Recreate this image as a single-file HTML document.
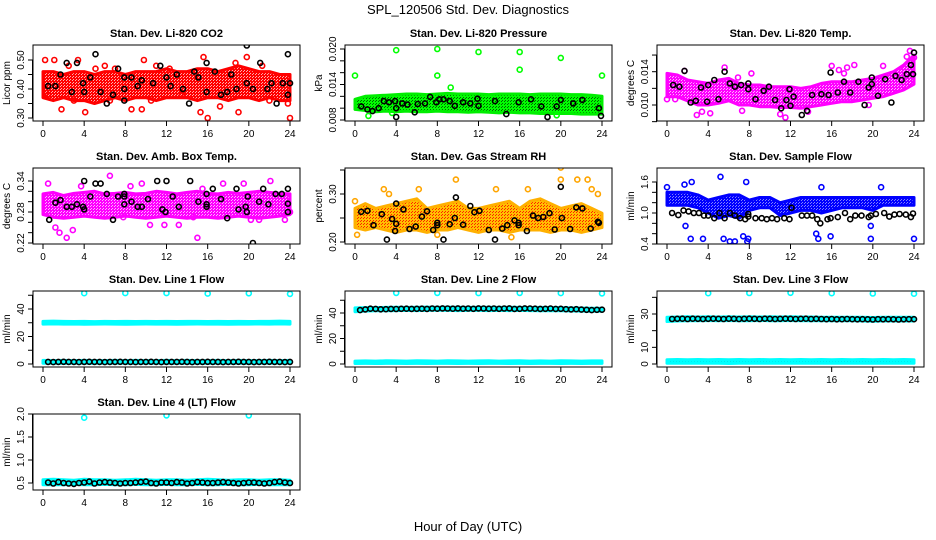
<!DOCTYPE html>
<html><head><meta charset="utf-8"><style>
html,body{margin:0;padding:0;background:#fff;}
svg{display:block;font-family:"Liberation Sans",Arial,sans-serif;}
</style></head><body>
<svg id="c" width="936" height="540" viewBox="0 0 936 540">
<text x="468" y="14" text-anchor="middle" font-size="13">SPL_120506  Std. Dev. Diagnostics</text>
<text x="468" y="531" text-anchor="middle" font-size="13">Hour of Day (UTC)</text>
</svg>
<script>
// ---- data ----
const xTicks=[0,4,8,12,16,20,24];
// Panel 1 CO2
const co2BandLo=[0.37,0.36,0.37,0.36,0.36,0.35,0.36,0.37,0.36,0.37,0.37,0.36,0.37,0.37,0.37,0.36,0.37,0.37,0.36,0.37,0.37,0.36,0.37,0.36,0.36];
const co2BandHi=[0.46,0.46,0.45,0.46,0.46,0.45,0.46,0.46,0.45,0.46,0.46,0.46,0.47,0.46,0.46,0.47,0.47,0.46,0.47,0.48,0.47,0.46,0.46,0.45,0.45];
const co2PtsH=[0.2,1.1,1.8,2.5,3.4,4.1,5.1,6.0,7.0,8.6,9.6,9.8,11.0,12.3,13.5,15.3,15.6,16.0,17.2,18.7,19.0,19.8,21.3,22.0,23.8,24.0,0.5,3.0,6.5,10.5];
const co2PtsV=[0.50,0.50,0.33,0.48,0.50,0.32,0.47,0.48,0.47,0.33,0.33,0.50,0.48,0.47,0.38,0.32,0.51,0.30,0.34,0.49,0.32,0.51,0.48,0.36,0.35,0.30,0.38,0.36,0.36,0.36];
const co2BlkH=[0.5,1.2,1.7,2.3,2.8,3.3,3.9,4.0,4.6,5.1,5.6,6.2,6.8,7.3,7.9,7.9,7.9,8.6,9.2,9.6,10.7,11.4,12.0,12.4,13.0,13.6,14.2,14.7,15.1,15.9,15.9,16.7,17.3,17.9,18.3,18.8,19.8,19.8,20.4,21.1,21.8,22.2,22.7,23.3,23.8,23.8,24.0];
const co2BlkV=[0.41,0.41,0.45,0.49,0.39,0.49,0.42,0.39,0.44,0.52,0.39,0.35,0.38,0.47,0.44,0.40,0.36,0.44,0.41,0.43,0.42,0.48,0.44,0.41,0.45,0.40,0.35,0.46,0.44,0.49,0.39,0.46,0.38,0.39,0.45,0.40,0.42,0.55,0.40,0.49,0.40,0.42,0.35,0.42,0.52,0.38,0.42];
// Panel 2 Pressure
const prsBandLo=[0.0098,0.0096,0.0094,0.0095,0.0094,0.0095,0.0094,0.0094,0.0095,0.0094,0.0094,0.0093,0.0094,0.0093,0.0092,0.0093,0.0092,0.0092,0.0091,0.0091,0.0091,0.0091,0.0090,0.0090,0.0090];
const prsBandHi=[0.0115,0.0120,0.0121,0.0122,0.0123,0.0124,0.0124,0.0123,0.0124,0.0125,0.0124,0.0124,0.0124,0.0123,0.0124,0.0124,0.0124,0.0123,0.0124,0.0124,0.0124,0.0123,0.0123,0.0122,0.0120];
const prsPtsH=[0,4,8,8,12,16,16,20,24,1.3,3.6,9.3,19.6];
const prsPtsV=[0.0155,0.0198,0.0200,0.0155,0.0195,0.0195,0.0165,0.0185,0.0155,0.0087,0.0092,0.0135,0.0088];
const prsBlkH=[0.6,1.2,1.7,2.3,2.8,3.3,3.9,4.0,4.0,4.6,5.1,5.8,6.1,6.8,7.3,7.9,8.2,8.6,9.2,9.7,10.5,11.2,11.9,12.0,13.6,14.7,15.9,17.1,18.1,18.7,19.6,20.0,21.2,22.1,23.7,23.9];
const prsBlkV=[0.0103,0.0098,0.0095,0.0100,0.0112,0.0110,0.0112,0.0100,0.0085,0.0108,0.0106,0.0093,0.0107,0.0108,0.0119,0.0110,0.0115,0.0115,0.0112,0.0104,0.0110,0.0108,0.0116,0.0104,0.0112,0.0090,0.0110,0.0115,0.0103,0.0085,0.0103,0.0114,0.0108,0.0114,0.0100,0.0087];
// Panel 3 Li-820 Temp
const tmpBandLo=[0.0110,0.0110,0.0105,0.0100,0.0100,0.0102,0.0105,0.0100,0.0100,0.0098,0.0098,0.0097,0.0097,0.0096,0.0098,0.0100,0.0102,0.0104,0.0104,0.0106,0.0108,0.0110,0.0114,0.0118,0.0125];
const tmpBandHi=[0.0138,0.0136,0.0130,0.0128,0.0126,0.0130,0.0132,0.0126,0.0124,0.0124,0.0122,0.0122,0.0122,0.0120,0.0122,0.0126,0.0128,0.0128,0.0128,0.0130,0.0132,0.0136,0.0140,0.0148,0.0160];
const tmpPtsH=[0,0.8,1.7,2.9,3.4,4.2,5.6,6.9,7.3,8.2,11.0,11.5,13.7,16.0,16.7,17.2,17.5,18.2,19.6,21.0,23.3,23.6,24.0];
const tmpPtsV=[0.0107,0.0107,0.0141,0.0088,0.0092,0.0090,0.0145,0.0133,0.0093,0.0138,0.0089,0.0085,0.0092,0.0147,0.0142,0.0138,0.0145,0.0148,0.0100,0.0147,0.0158,0.0165,0.0157];
const tmpBlkH=[0.6,1.2,1.7,2.3,2.8,3.3,3.9,4.0,4.6,5.0,5.6,6.1,6.6,7.2,7.9,7.9,8.6,9.4,9.9,10.5,11.1,11.6,11.9,12.0,12.3,13.1,13.6,14.1,15.0,15.7,15.9,16.6,17.2,17.8,18.6,19.2,19.6,19.9,19.9,20.5,21.2,21.8,22.2,22.8,23.3,23.7,23.9,24.0];
const tmpBlkV=[0.0124,0.0122,0.0141,0.0103,0.0105,0.0121,0.0104,0.0124,0.0130,0.0107,0.0140,0.0126,0.0122,0.0124,0.0126,0.0119,0.0107,0.0117,0.0122,0.0106,0.0096,0.0106,0.0119,0.0099,0.0110,0.0088,0.0093,0.0112,0.0113,0.0112,0.0139,0.0115,0.0128,0.0115,0.0128,0.0100,0.0121,0.0133,0.0125,0.0111,0.0131,0.0103,0.0135,0.0130,0.0137,0.0148,0.0137,0.0163];
// Panel 4 Amb box temp
const ambBandLo=[0.275,0.27,0.268,0.27,0.272,0.27,0.268,0.27,0.272,0.27,0.268,0.27,0.272,0.27,0.268,0.27,0.27,0.268,0.27,0.272,0.27,0.268,0.27,0.272,0.275];
const ambBandHi=[0.315,0.318,0.312,0.316,0.318,0.32,0.315,0.316,0.318,0.315,0.316,0.32,0.318,0.315,0.318,0.32,0.316,0.315,0.318,0.316,0.318,0.32,0.318,0.316,0.315];
const ambPtsH=[0.5,1.2,1.6,2.3,2.9,3.7,6.5,7.8,8.5,9.6,10.4,11.8,13.2,14.6,15.0,15.5,17.5,19.5,20.2,21.0,22.1,23.5,24.0];
const ambPtsV=[0.335,0.25,0.24,0.23,0.245,0.33,0.35,0.27,0.33,0.335,0.255,0.255,0.255,0.27,0.23,0.325,0.335,0.335,0.265,0.265,0.34,0.265,0.28];
const ambBlkH=[0.6,1.2,1.7,2.3,2.8,3.3,3.9,4.0,4.0,4.6,5.1,5.6,6.2,6.8,7.3,7.9,7.9,7.9,8.6,9.2,9.6,10.2,11.1,11.6,11.9,12.0,12.6,13.2,14.3,15.1,15.9,15.9,15.9,16.5,17.3,17.9,18.8,19.0,19.7,19.8,19.9,20.4,21.0,21.4,21.9,22.6,23.2,23.8,23.8,23.8];
const ambBlkV=[0.265,0.298,0.303,0.29,0.29,0.295,0.29,0.34,0.285,0.31,0.335,0.335,0.315,0.265,0.31,0.315,0.31,0.295,0.30,0.29,0.29,0.305,0.34,0.285,0.28,0.34,0.31,0.29,0.34,0.30,0.315,0.295,0.29,0.325,0.305,0.268,0.325,0.285,0.29,0.28,0.31,0.22,0.30,0.325,0.295,0.315,0.315,0.325,0.296,0.28];
// Panel 5 Gas stream RH
const rhBandLo=[0.23,0.225,0.23,0.225,0.22,0.225,0.225,0.22,0.225,0.225,0.23,0.225,0.22,0.225,0.225,0.22,0.225,0.225,0.225,0.22,0.225,0.225,0.22,0.225,0.23];
const rhBandHi=[0.27,0.28,0.27,0.275,0.28,0.285,0.29,0.27,0.275,0.28,0.285,0.27,0.27,0.275,0.28,0.285,0.27,0.285,0.29,0.28,0.27,0.275,0.28,0.27,0.26];
const rhPtsH=[0,0.2,2.8,3.3,5.0,6.2,8.0,9.8,13.7,15.2,16.8,20.0,20.0,21.6,22.6,23.0,23.6];
const rhPtsV=[0.285,0.215,0.31,0.30,0.28,0.31,0.215,0.33,0.31,0.21,0.31,0.355,0.33,0.33,0.33,0.31,0.30];
const rhBlkH=[0.6,1.2,1.8,2.6,3.1,3.6,3.9,4.0,4.0,4.7,5.3,5.9,6.5,7.0,7.6,8.0,8.0,8.6,9.2,9.7,9.8,10.5,11.2,11.6,12.1,13.0,13.6,14.3,14.8,15.5,15.9,15.9,16.7,17.3,17.8,18.3,18.9,19.4,20.1,20.0,20.9,21.5,22.1,22.9,23.6,23.7];
const rhBlkV=[0.263,0.265,0.235,0.258,0.205,0.248,0.223,0.238,0.28,0.268,0.227,0.232,0.253,0.264,0.225,0.24,0.235,0.205,0.237,0.25,0.293,0.236,0.275,0.262,0.265,0.225,0.205,0.228,0.235,0.245,0.24,0.235,0.223,0.255,0.25,0.252,0.26,0.226,0.25,0.315,0.227,0.272,0.27,0.228,0.242,0.24];
// Panel 6 Sample flow
const sfBandLo=[1.15,1.15,1.15,1.1,1.0,0.9,0.95,0.9,1.05,1.1,1.1,0.95,1.0,1.05,1.05,1.0,1.05,1.1,1.1,1.1,1.05,1.15,1.15,1.15,1.15];
const sfBandHi=[1.4,1.4,1.4,1.35,1.25,1.3,1.35,1.35,1.25,1.3,1.3,1.2,1.25,1.3,1.3,1.3,1.3,1.3,1.3,1.3,1.3,1.3,1.3,1.3,1.3];
const sfPtsH=[0,1.7,1.8,2.3,2.4,3.5,5.2,5.5,6.1,6.6,7.4,7.7,7.8,7.9,14.5,14.7,15.0,15.9,19.8,20.8,24.0,19.8];
const sfPtsV=[1.5,1.55,0.75,0.5,1.6,0.5,1.7,0.5,0.45,0.45,0.55,1.6,0.45,0.5,0.6,0.5,1.5,0.55,0.5,1.5,0.5,0.75];
const sfBlkH=[0.5,1.1,1.6,2.1,2.6,3.1,3.6,4.0,4.6,5.1,5.6,6.1,6.6,7.1,7.6,7.9,7.9,8.6,9.2,9.7,10.2,10.7,11.4,11.9,12.1,13.1,13.6,14.1,14.6,14.9,15.6,15.9,16.6,17.3,17.8,18.3,18.9,19.6,19.8,20.3,21.1,21.6,22.1,22.6,23.2,23.7,23.9];
const sfBlkV=[1.0,0.96,1.05,1.03,1.0,1.0,0.95,0.95,0.9,1.0,0.9,1.0,0.95,0.9,0.88,0.93,0.98,0.9,0.9,0.88,0.9,0.88,0.9,0.88,1.1,0.95,0.95,0.95,0.88,0.8,0.88,0.9,0.92,1.0,0.88,0.95,0.95,0.92,0.95,0.98,1.0,0.93,0.97,0.98,0.97,0.92,0.99];
// Flow panels: black series at half-hour steps 0.5..24
const l1Blk=[1.5,1.4,1.5,1.6,1.5,1.5,1.4,1.5,1.6,1.5,1.5,1.4,1.5,1.5,1.6,1.5,1.5,1.4,1.5,1.5,1.6,1.5,1.4,1.5,1.5,1.5,1.6,1.5,1.4,1.5,1.5,1.6,1.5,1.5,1.4,1.5,1.5,1.6,1.5,1.5,1.4,1.5,1.5,1.6,1.5,1.5,1.4,1.5];
const l1BandALo=[29.0,29.2,29.0,29.1,28.9,29.0,29.1,29.0,28.9,29.0,29.1,29.0,29.0,28.9,29.0,29.1,29.0,29.0,28.9,29.0,29.0,29.1,29.0,29.2,29.0];
const l1BandAHi=[31.0,31.2,31.0,30.9,31.0,30.8,31.0,30.9,31.0,30.9,31.0,30.9,31.0,30.9,31.0,31.0,30.9,31.0,30.9,31.0,30.9,31.0,31.0,31.2,31.0];
const l1BandBLo=[0.5,0.5,0.4,0.5,0.5,0.4,0.5,0.5,0.5,0.4,0.5,0.5,0.5,0.4,0.5,0.5,0.4,0.5,0.5,0.5,0.4,0.5,0.5,0.5,0.5];
const l1BandBHi=[2.6,2.5,2.6,2.5,2.6,2.5,2.5,2.6,2.5,2.6,2.5,2.5,2.6,2.5,2.6,2.5,2.5,2.6,2.5,2.6,2.5,2.5,2.6,2.5,2.6];
const l1PtsH=[4,8,12,16,20,24];
const l1PtsV=[51.5,51.6,51.6,51.2,51.4,51.0];
const l2Blk=[42.3,42.8,43.4,43.2,42.9,43.0,43.2,43.1,43.3,43.4,43.2,43.3,43.4,43.2,43.5,43.4,43.6,43.5,43.4,43.6,43.4,43.5,43.3,43.6,43.5,43.4,43.5,43.3,43.5,43.6,43.2,43.3,43.6,43.5,43.4,43.2,43.3,43.5,43.2,43.3,43.0,42.8,43.0,42.7,42.5,42.3,42.5,42.6];
const l2BandALo=[41.0,41.5,41.8,41.8,41.9,42.0,41.9,42.0,42.1,42.0,41.9,42.0,42.0,41.9,42.0,41.9,42.0,41.9,41.8,41.8,41.7,41.6,41.5,41.4,41.4];
const l2BandAHi=[44.0,44.2,44.3,44.4,44.5,44.4,44.5,44.6,44.5,44.6,44.5,44.4,44.5,44.5,44.4,44.5,44.4,44.3,44.4,44.3,44.2,44.0,43.9,43.8,43.8];
const l2BandBLo=[0.4,0.5,0.4,0.5,0.5,0.4,0.5,0.4,0.5,0.5,0.4,0.5,0.4,0.5,0.5,0.4,0.5,0.4,0.5,0.5,0.4,0.5,0.4,0.5,0.5];
const l2BandBHi=[2.3,2.4,2.3,2.5,2.4,2.3,2.5,2.4,2.3,2.5,2.4,2.3,2.4,2.5,2.3,2.4,2.5,2.3,2.4,2.3,2.5,2.4,2.3,2.4,2.4];
const l2PtsH=[4,8,12,16,20,24];
const l2PtsV=[55.8,55.8,55.6,55.8,55.6,55.4];
const l3Blk=[27.0,27.1,27.2,27.0,27.2,27.1,27.0,27.1,27.2,27.1,27.0,27.2,27.1,27.0,27.1,27.2,27.1,27.0,27.2,27.1,27.0,27.1,27.2,27.1,27.0,27.1,27.2,27.0,27.1,27.0,26.9,27.0,26.8,26.9,27.0,26.9,26.8,26.9,26.8,26.7,26.9,26.8,26.9,26.8,26.7,26.8,26.9,26.9];
const l3BandALo=[25.5,25.8,26.0,26.0,26.1,26.0,26.1,26.0,26.0,26.1,26.0,26.0,26.1,26.0,26.0,26.0,25.9,25.9,25.9,25.8,25.7,25.8,25.8,25.8,25.8];
const l3BandAHi=[28.0,28.2,28.3,28.2,28.3,28.2,28.3,28.2,28.3,28.2,28.3,28.2,28.3,28.2,28.2,28.1,28.1,28.0,28.1,28.0,27.9,28.0,28.0,28.0,28.0];
const l3BandBLo=[0.5,0.4,0.5,0.5,0.4,0.5,0.3,0.5,0.4,0.5,0.5,0.4,0.5,0.4,0.5,0.5,0.4,0.5,0.4,0.5,0.5,0.4,0.5,0.5,0.5];
const l3BandBHi=[2.6,2.7,2.6,2.7,2.6,2.7,2.6,2.7,2.6,2.7,2.6,2.7,2.6,2.7,2.6,2.7,2.6,2.7,2.6,2.7,2.6,2.7,2.6,2.7,2.6];
const l3PtsH=[4,8,12,16,20,24];
const l3PtsV=[42.5,42.6,42.7,42.5,42.3,42.2];
const l4Blk=[0.51,0.49,0.52,0.50,0.49,0.48,0.50,0.51,0.53,0.49,0.51,0.52,0.51,0.50,0.49,0.50,0.50,0.51,0.52,0.53,0.50,0.49,0.51,0.51,0.50,0.52,0.51,0.49,0.50,0.52,0.51,0.50,0.50,0.51,0.52,0.51,0.50,0.49,0.50,0.51,0.51,0.50,0.49,0.50,0.52,0.53,0.51,0.50];
const l4BandLo=[0.46,0.46,0.46,0.47,0.46,0.46,0.47,0.46,0.46,0.47,0.46,0.46,0.47,0.46,0.46,0.47,0.46,0.46,0.47,0.46,0.46,0.47,0.46,0.46,0.46];
const l4BandHi=[0.57,0.58,0.57,0.56,0.58,0.57,0.57,0.56,0.57,0.58,0.57,0.56,0.57,0.57,0.56,0.57,0.58,0.57,0.56,0.57,0.57,0.56,0.57,0.57,0.56];
const l4PtsH=[4,12,20];
const l4PtsV=[1.92,1.97,1.97];

// ---- rendering ----
const NS='http://www.w3.org/2000/svg';
const svg=document.getElementById('c');
function mk(tag,attrs,parent){const e=document.createElementNS(NS,tag);for(const k in attrs)e.setAttribute(k,attrs[k]);(parent||svg).appendChild(e);return e;}
const defs=mk('defs',{});
function pat(id,bg,dot){const p=mk('pattern',{id:id,width:3,height:3,patternUnits:'userSpaceOnUse'},defs);mk('rect',{width:3,height:3,fill:bg},p);mk('rect',{x:1,y:1,width:1,height:1,fill:dot},p);mk('rect',{x:0,y:2,width:1,height:1,fill:dot},p);}
pat('pRed','#ff0000','#ffb0b0');pat('pGreen','#00ff00','#006600');pat('pMag','#ff00ff','#ffb0ff');
pat('pRH','#ffc000','#ff2000');pat('pBlue','#0000ff','#8080ff');pat('pCyan','#00ffff','#00dddd');

const hours=[];for(let i=0;i<=24;i++)hours.push(i);
const halfHours=[];for(let i=1;i<=48;i++)halfHours.push(i*0.5);

const cols=[33,345,657],rows=[45,168,291,414],W=267,H=76;
function panel(o){
  const bx=cols[o.c],by=rows[o.r];
  const g=mk('g',{});
  
  
  const xm=h=>bx+10+h*(W-20)/24;
  const ym=v=>o.p0+(v-o.v0)*(o.p1-o.p0)/(o.v1-o.v0);
  const t=mk('text',{x:bx+W/2,y:by-8,'text-anchor':'middle','font-size':11,'font-weight':'bold'},g);t.textContent=o.title;
  
  
  const cl='clip'+o.r+o.c;const cp=mk('clipPath',{id:cl},defs);mk('rect',{x:bx,y:by,width:W,height:H},cp);
  const pg=mk('g',{'clip-path':'url(#'+cl+')'},g);
  (o.bands||[]).forEach(b=>{
    let d='';b.hi.forEach((v,i)=>{d+=(i?'L':'M')+xm(hours[i]).toFixed(1)+','+ym(v).toFixed(1);});
    for(let i=b.lo.length-1;i>=0;i--)d+='L'+xm(hours[i]).toFixed(1)+','+ym(b.lo[i]).toFixed(1);
    const e=mk('path',{d:d+'Z',fill:'url(#'+b.fill+')',stroke:b.col,'stroke-width':3,'stroke-linejoin':'round'},pg);
    
    
  });
  const dot=(h,v,col)=>{const e=mk('circle',{cx:xm(h).toFixed(1),cy:ym(v).toFixed(1),r:2.5,fill:'none',stroke:col,'stroke-width':1.6},pg);
    
    };
  o.ptsH.forEach((h,i)=>dot(h,o.ptsV[i],o.col));
  if(o.blkH)o.blkH.forEach((h,i)=>dot(h,o.blkV[i],'#000'));
  mk('rect',{x:bx,y:by,width:W,height:H,fill:'none',stroke:'#000','stroke-width':1},g);
  xTicks.forEach(h=>{const x=xm(h);mk('line',{x1:x,y1:by+H,x2:x,y2:by+H+5,stroke:'#000'},g);
    const tx=mk('text',{x:x,y:by+H+16,'text-anchor':'middle','font-size':10},g);tx.textContent=h;
    
    });
  o.yt.forEach(v=>{const y=ym(v);mk('line',{x1:bx-5,y1:y,x2:bx,y2:y,stroke:'#000'},g);});
  mk('line',{x1:bx-0.5,y1:ym(o.yt[0]),x2:bx-0.5,y2:ym(o.yt[o.yt.length-1]),stroke:'#000'},g);
  o.yl.forEach(s=>{const y=ym(parseFloat(s));const tx=mk('text',{x:0,y:0,'text-anchor':'middle','font-size':10,transform:'translate('+(bx-9)+','+y+') rotate(-90)'},g);tx.textContent=s;
    
    });
  const yl=mk('text',{x:0,y:0,'text-anchor':'middle','font-size':10,transform:'translate('+(bx-23)+','+(by+H/2)+') rotate(-90)'},g);yl.textContent=o.ylab;
  
  
}
panel({name:'panel-co2',r:0,c:0,title:'Stan. Dev. Li-820 CO2',ylab:'Licor ppm',col:'#ff0000',v0:0.30,p0:118,v1:0.50,p1:60,
  yt:[0.30,0.35,0.40,0.45,0.50],yl:['0.30','0.40','0.50'],bands:[{lo:co2BandLo,hi:co2BandHi,fill:'pRed',col:'#ff0000'}],
  ptsH:co2PtsH,ptsV:co2PtsV,blkH:co2BlkH,blkV:co2BlkV});
panel({name:'panel-pressure',r:0,c:1,title:'Stan. Dev. Li-820 Pressure',ylab:'kPa',col:'#00ff00',v0:0.008,p0:120,v1:0.020,p1:49,
  yt:[0.008,0.010,0.012,0.014,0.016,0.018,0.020],yl:['0.008','0.014','0.020'],bands:[{lo:prsBandLo,hi:prsBandHi,fill:'pGreen',col:'#00ee00'}],
  ptsH:prsPtsH,ptsV:prsPtsV,blkH:prsBlkH,blkV:prsBlkV});
panel({name:'panel-li820-temp',r:0,c:2,title:'Stan. Dev. Li-820 Temp.',ylab:'degrees C',col:'#ff00ff',v0:0.010,p0:105,v1:0.014,p1:71.7,
  yt:[0.008,0.010,0.012,0.014,0.016],yl:['0.010','0.014'],bands:[{lo:tmpBandLo,hi:tmpBandHi,fill:'pMag',col:'#ff00ff'}],
  ptsH:tmpPtsH,ptsV:tmpPtsV,blkH:tmpBlkH,blkV:tmpBlkV});
panel({name:'panel-amb-box-temp',r:1,c:0,title:'Stan. Dev. Amb. Box Temp.',ylab:'degrees C',col:'#ff00ff',v0:0.22,p0:243,v1:0.34,p1:181,
  yt:[0.22,0.24,0.26,0.28,0.30,0.32,0.34],yl:['0.22','0.28','0.34'],bands:[{lo:ambBandLo,hi:ambBandHi,fill:'pMag',col:'#ff00ff'}],
  ptsH:ambPtsH,ptsV:ambPtsV,blkH:ambBlkH,blkV:ambBlkV});
panel({name:'panel-gas-rh',r:1,c:1,title:'Stan. Dev. Gas Stream RH',ylab:'percent',col:'#ffa500',v0:0.20,p0:242,v1:0.30,p1:194,
  yt:[0.20,0.25,0.30,0.35],yl:['0.20','0.30'],bands:[{lo:rhBandLo,hi:rhBandHi,fill:'pRH',col:'#ffb000'}],
  ptsH:rhPtsH,ptsV:rhPtsV,blkH:rhBlkH,blkV:rhBlkV});
panel({name:'panel-sample-flow',r:1,c:2,title:'Stan. Dev. Sample Flow',ylab:'ml/min',col:'#0000ff',v0:0.4,p0:244,v1:1.6,p1:182,
  yt:[0.4,0.6,0.8,1.0,1.2,1.4,1.6],yl:['0.4','1.0','1.6'],bands:[{lo:sfBandLo,hi:sfBandHi,fill:'pBlue',col:'#0000ff'}],
  ptsH:sfPtsH,ptsV:sfPtsV,blkH:sfBlkH,blkV:sfBlkV});
panel({name:'panel-line1-flow',r:2,c:0,title:'Stan. Dev. Line 1 Flow',ylab:'ml/min',col:'#00ffff',v0:0,p0:364,v1:40,p1:309,
  yt:[0,10,20,30,40,50],yl:['0','20','40'],bands:[{lo:l1BandALo,hi:l1BandAHi,fill:'pCyan',col:'#00ffff'},{lo:l1BandBLo,hi:l1BandBHi,fill:'pCyan',col:'#00ffff'}],
  ptsH:l1PtsH,ptsV:l1PtsV,blkH:halfHours,blkV:l1Blk});
panel({name:'panel-line2-flow',r:2,c:1,title:'Stan. Dev. Line 2 Flow',ylab:'ml/min',col:'#00ffff',v0:0,p0:364,v1:40,p1:313,
  yt:[0,10,20,30,40,50],yl:['0','20','40'],bands:[{lo:l2BandALo,hi:l2BandAHi,fill:'pCyan',col:'#00ffff'},{lo:l2BandBLo,hi:l2BandBHi,fill:'pCyan',col:'#00ffff'}],
  ptsH:l2PtsH,ptsV:l2PtsV,blkH:halfHours,blkV:l2Blk});
panel({name:'panel-line3-flow',r:2,c:2,title:'Stan. Dev. Line 3 Flow',ylab:'ml/min',col:'#00ffff',v0:0,p0:364,v1:30,p1:314,
  yt:[0,10,20,30,40],yl:['0','10','30'],bands:[{lo:l3BandALo,hi:l3BandAHi,fill:'pCyan',col:'#00ffff'},{lo:l3BandBLo,hi:l3BandBHi,fill:'pCyan',col:'#00ffff'}],
  ptsH:l3PtsH,ptsV:l3PtsV,blkH:halfHours,blkV:l3Blk});
panel({name:'panel-line4-flow',r:3,c:0,title:'Stan. Dev. Line 4 (LT) Flow',ylab:'ml/min',col:'#00ffff',v0:0.5,p0:483,v1:2.0,p1:414,
  yt:[0.5,1.0,1.5,2.0],yl:['0.5','1.0','1.5','2.0'],bands:[{lo:l4BandLo,hi:l4BandHi,fill:'pCyan',col:'#00ffff'}],
  ptsH:l4PtsH,ptsV:l4PtsV,blkH:halfHours,blkV:l4Blk});
</script>
</body></html>
